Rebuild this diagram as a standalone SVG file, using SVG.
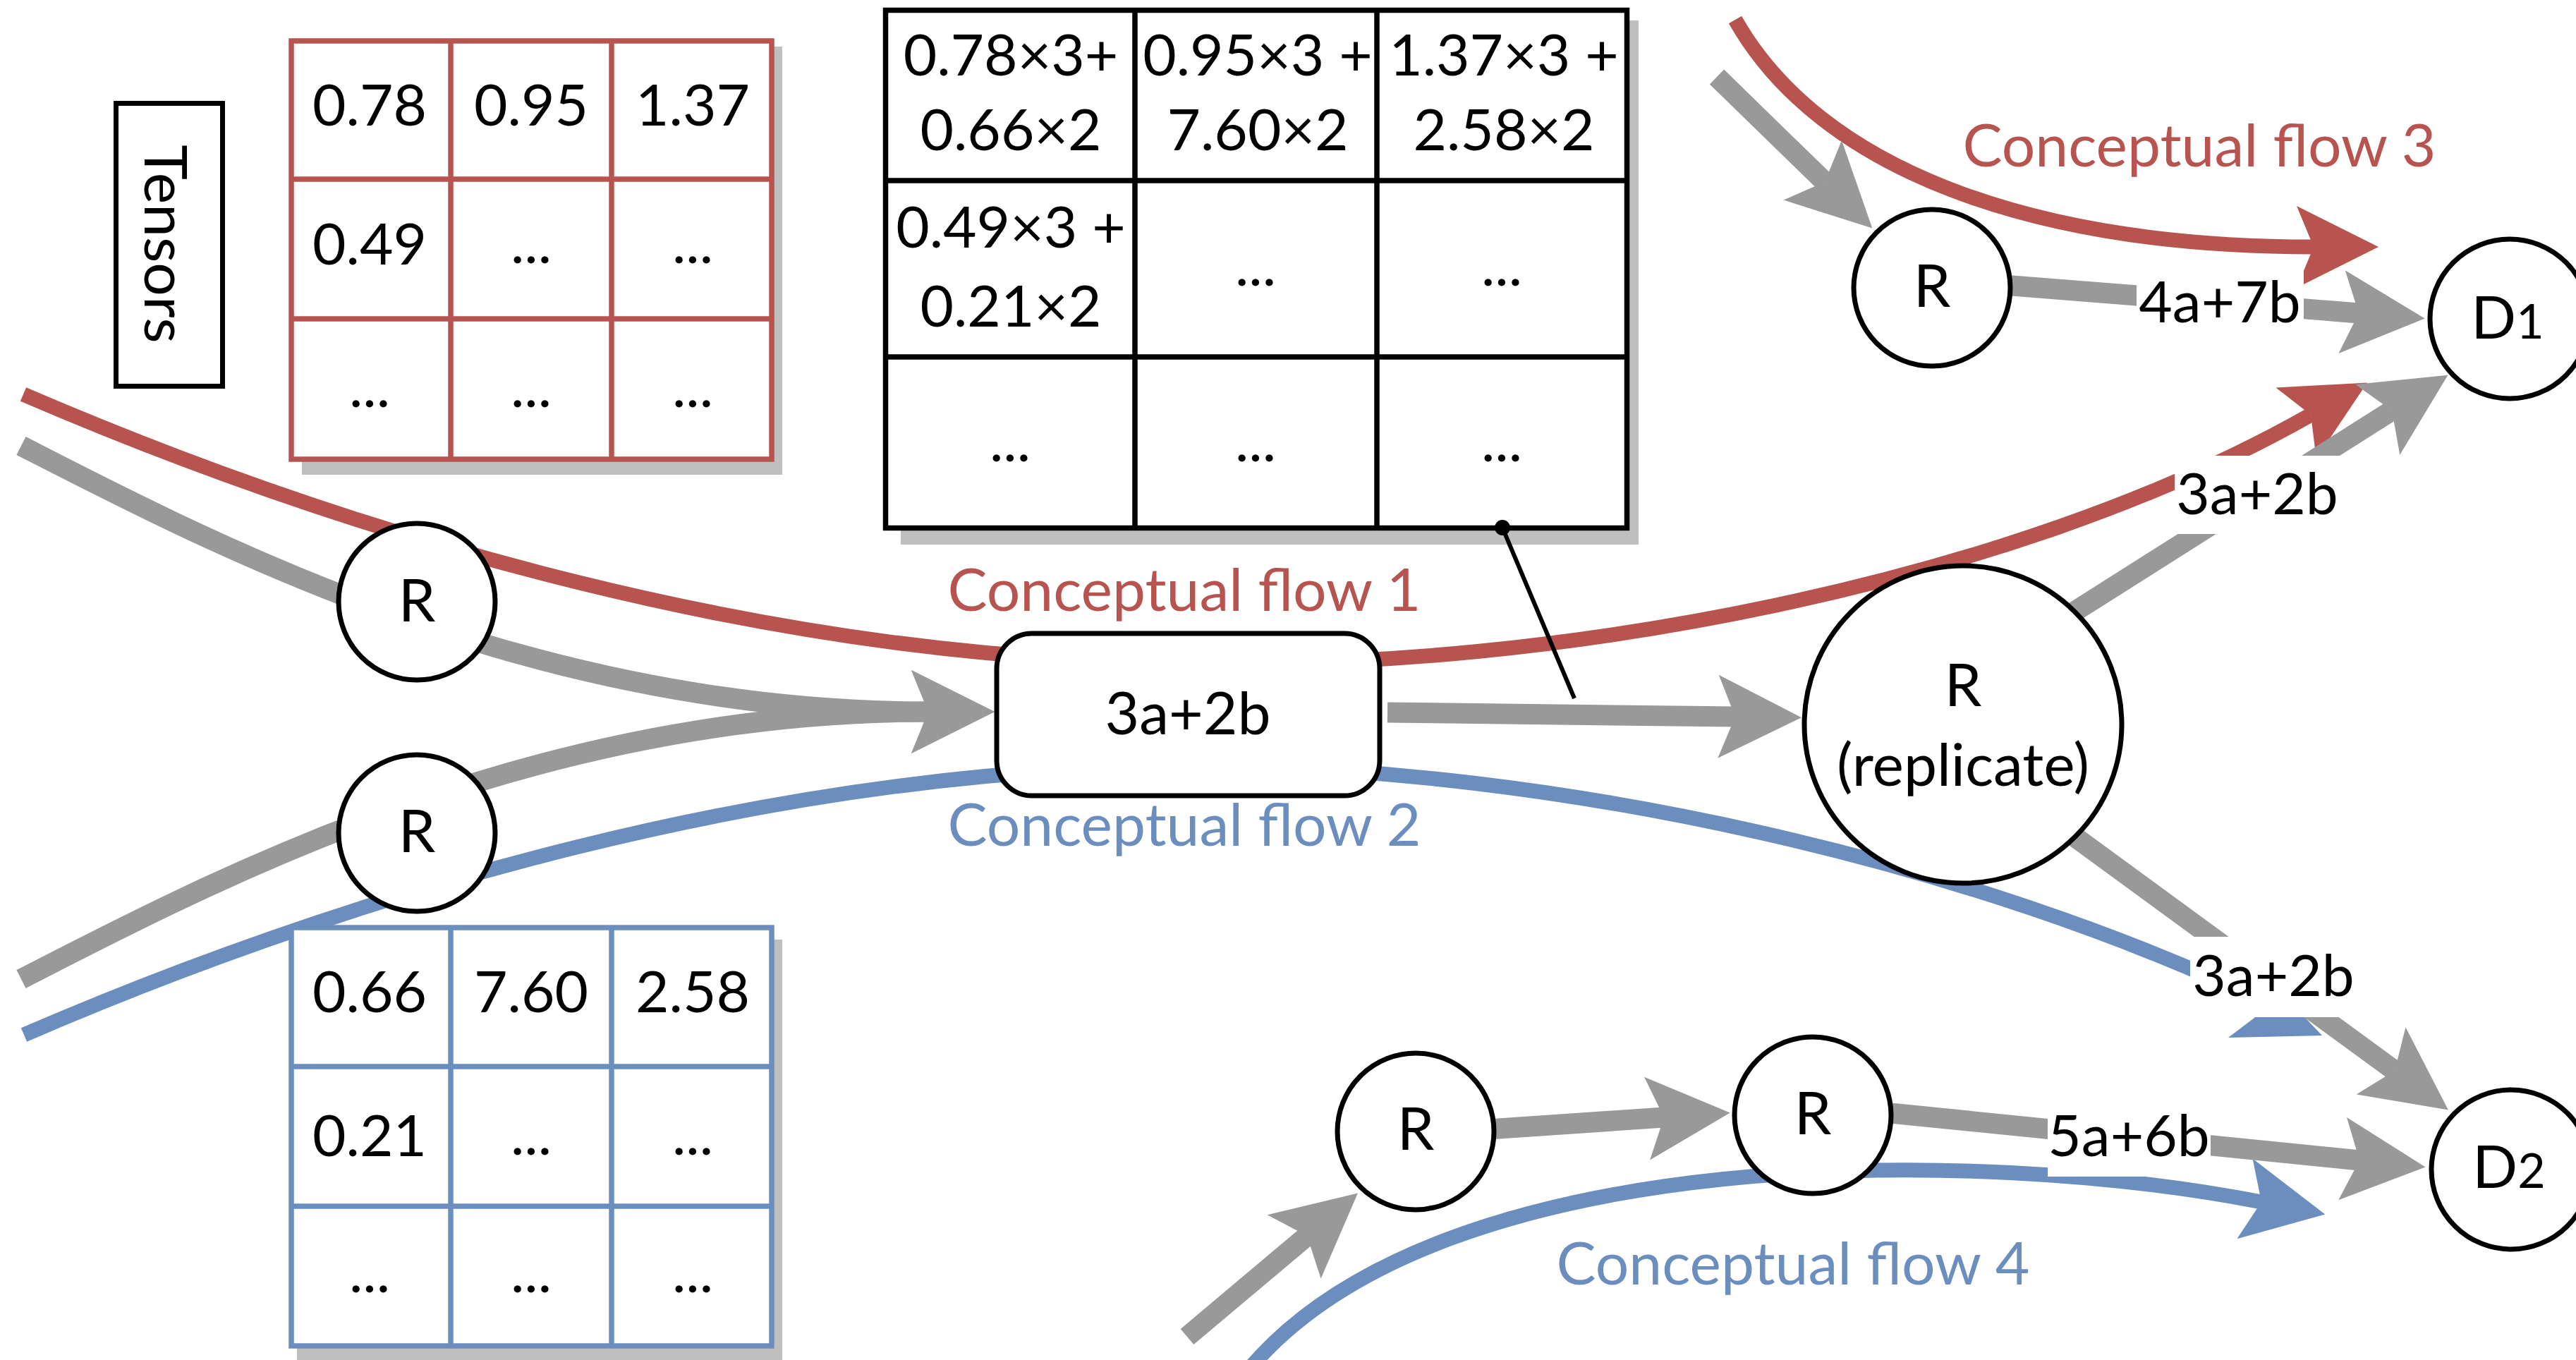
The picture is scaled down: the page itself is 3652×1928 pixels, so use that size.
<svg xmlns="http://www.w3.org/2000/svg" width="3652" height="1928" viewBox="0 0 3652 1928">
  <style>
    .txt { font-family: Lato, "Liberation Sans", sans-serif; font-size: 82px; fill: #000; text-anchor: middle; }
    .big { font-size: 84px; }
    .fr { fill: #b85450; }
    .fb { fill: #6c8ebf; }
    .node { fill: #fff; stroke: #000; stroke-width: 7; }
    .gray { fill: none; stroke: #999999; stroke-width: 29; }
    .red { fill: none; stroke: #b85450; stroke-width: 21; }
    .blue { fill: none; stroke: #6c8ebf; stroke-width: 21; }
    .shadow { fill: #bfbfbf; }
    .cell { fill: #fff; }
    .gridR { fill: none; stroke: #b85450; stroke-width: 7.5; }
    .gridB { fill: none; stroke: #6c8ebf; stroke-width: 7.5; }
    .gridK { fill: none; stroke: #000; stroke-width: 7.5; }
    .lbg { fill: #fff; }
  </style>
  <defs>
    <marker id="ahGray" viewBox="0 -60 118 120" markerWidth="118" markerHeight="120" refX="24" refY="0" orient="auto" markerUnits="userSpaceOnUse">
      <path d="M0,-59 L118,0 L0,59 L24,0 Z" fill="#999999"/>
    </marker>
    <marker id="ahRed" viewBox="0 -60 118 120" markerWidth="118" markerHeight="120" refX="24" refY="0" orient="auto" markerUnits="userSpaceOnUse">
      <path d="M0,-58 L116,0 L0,58 L24,0 Z" fill="#b85450"/>
    </marker>
    <marker id="ahBlue" viewBox="0 -60 118 120" markerWidth="118" markerHeight="120" refX="24" refY="0" orient="auto" markerUnits="userSpaceOnUse">
      <path d="M0,-58 L116,0 L0,58 L24,0 Z" fill="#6c8ebf"/>
    </marker>
  </defs>

  <rect x="0" y="0" width="3652" height="1928" fill="#fff"/>

  <!-- flows and data edges -->
  <g id="connectors">
    <!-- conceptual flows -->
    <path id="flow1" class="red" d="M33,559 C500,760 1100,940 1700,940 C2200,950 2850,830 3276,588" marker-end="url(#ahRed)"/>
    <path id="flow2" class="blue" d="M34,1467 C500,1266 1100,1086 1700,1086 C2200,1086 2800,1220 3230,1430"/>
    <polygon points="3159,1471 3292,1468 3238,1411" fill="#6c8ebf"/>
    <path id="flow3" class="red" d="M2460,28 C2580,240 2880,350 3280,350" marker-end="url(#ahRed)"/>
    <path id="flow4" class="blue" d="M1776,1935 C2050,1620 2800,1625 3206,1704" marker-end="url(#ahBlue)"/>
    <!-- data edges -->
    <path class="gray" d="M30,632 C300,770 750,1009 1316,1009" marker-end="url(#ahGray)"/>
    <path class="gray" d="M30,1388 C300,1250 750,1009 1316,1009" marker-end="url(#ahGray)"/>
    <path class="gray" d="M1967,1010 L2460,1016" marker-end="url(#ahGray)"/>
    <path class="gray" d="M2930,874 L3391,582" marker-end="url(#ahGray)"/>
    <path class="gray" d="M2930,1178 L3395,1518" marker-end="url(#ahGray)"/>
    <path class="gray" d="M2434,109 L2587,258" marker-end="url(#ahGray)"/>
    <path class="gray" d="M2840,404 L3344,444" marker-end="url(#ahGray)"/>
    <path class="gray" d="M1683,1895 L1853,1752" marker-end="url(#ahGray)"/>
    <path class="gray" d="M2110,1601 L2359,1584" marker-end="url(#ahGray)"/>
    <path class="gray" d="M2670,1577 L3345,1645" marker-end="url(#ahGray)"/>
  </g>

  <!-- tensor label -->
  <g id="tensors-label">
    <rect x="164.5" y="146.5" width="151" height="401" fill="#fff" stroke="#000" stroke-width="7"/>
    <text class="txt big" transform="translate(205,346) rotate(90)" x="0" y="0">Tensors</text>
  </g>

  <!-- input tensor A -->
  <g id="tensor-a">
    <rect class="shadow" x="428" y="66" width="681" height="607"/>
    <rect class="cell" x="413" y="58" width="681" height="593"/>
    <g class="gridR">
      <rect x="413" y="58" width="681" height="593"/>
      <line x1="639" y1="58" x2="639" y2="651"/>
      <line x1="867" y1="58" x2="867" y2="651"/>
      <line x1="413" y1="254" x2="1094" y2="254"/>
      <line x1="413" y1="452" x2="1094" y2="452"/>
    </g>
    <text class="txt" x="524" y="178">0.78</text>
    <text class="txt" x="753" y="178">0.95</text>
    <text class="txt" x="982" y="178">1.37</text>
    <text class="txt" x="524" y="375">0.49</text>
    <text class="txt" x="753" y="373">...</text>
    <text class="txt" x="982" y="373">...</text>
    <text class="txt" x="524" y="577">...</text>
    <text class="txt" x="753" y="577">...</text>
    <text class="txt" x="982" y="577">...</text>
  </g>

  <!-- input tensor B -->
  <g id="tensor-b">
    <rect class="shadow" x="421" y="1332" width="688" height="600"/>
    <rect class="cell" x="413" y="1315" width="681" height="593"/>
    <g class="gridB">
      <rect x="413" y="1315" width="681" height="593"/>
      <line x1="639" y1="1315" x2="639" y2="1908"/>
      <line x1="867" y1="1315" x2="867" y2="1908"/>
      <line x1="413" y1="1512" x2="1094" y2="1512"/>
      <line x1="413" y1="1710" x2="1094" y2="1710"/>
    </g>
    <text class="txt" x="524" y="1435">0.66</text>
    <text class="txt" x="753" y="1435">7.60</text>
    <text class="txt" x="982" y="1435">2.58</text>
    <text class="txt" x="524" y="1639">0.21</text>
    <text class="txt" x="753" y="1637">...</text>
    <text class="txt" x="982" y="1637">...</text>
    <text class="txt" x="524" y="1832">...</text>
    <text class="txt" x="753" y="1832">...</text>
    <text class="txt" x="982" y="1832">...</text>
  </g>

  <!-- result tensor -->
  <g id="tensor-result">
    <rect class="shadow" x="1277" y="29" width="1046" height="743"/>
    <rect class="cell" x="1255.5" y="14.5" width="1051" height="734"/>
    <g class="gridK">
      <rect x="1255.5" y="14.5" width="1051" height="734"/>
      <line x1="1609" y1="14.5" x2="1609" y2="748.5"/>
      <line x1="1952" y1="14.5" x2="1952" y2="748.5"/>
      <line x1="1255.5" y1="256" x2="2306.5" y2="256"/>
      <line x1="1255.5" y1="506" x2="2306.5" y2="506"/>
    </g>
    <text class="txt" x="1433" y="107">0.78×3+</text>
    <text class="txt" x="1433" y="213">0.66×2</text>
    <text class="txt" x="1783" y="107">0.95×3 +</text>
    <text class="txt" x="1783" y="213">7.60×2</text>
    <text class="txt" x="2132" y="107">1.37×3 +</text>
    <text class="txt" x="2132" y="213">2.58×2</text>
    <text class="txt" x="1433" y="351">0.49×3 +</text>
    <text class="txt" x="1433" y="463">0.21×2</text>
    <text class="txt" x="1780" y="405">...</text>
    <text class="txt" x="2129" y="405">...</text>
    <text class="txt" x="1432" y="654">...</text>
    <text class="txt" x="1780" y="654">...</text>
    <text class="txt" x="2129" y="654">...</text>
  </g>

  <!-- nodes -->
  <g id="r1"><circle class="node" cx="591" cy="853" r="111"/><text class="txt big" x="591" y="881">R</text></g>
  <g id="r2"><circle class="node" cx="591" cy="1181" r="111"/><text class="txt big" x="591" y="1208">R</text></g>
  <g id="sum"><rect class="node" x="1413" y="898" width="543" height="230" rx="50" ry="50"/><text class="txt big" x="1684" y="1041">3a+2b</text></g>
  <g id="replicate"><circle class="node" cx="2783" cy="1027" r="225"/><text class="txt big" x="2783" y="1001">R</text><text class="txt big" x="2783" y="1114">(replicate)</text></g>
  <g id="r3"><circle class="node" cx="2739" cy="408" r="111"/><text class="txt big" x="2739" y="435">R</text></g>
  <g id="r4"><circle class="node" cx="2007" cy="1604" r="111"/><text class="txt big" x="2007" y="1630">R</text></g>
  <g id="r5"><circle class="node" cx="2570" cy="1581" r="111"/><text class="txt big" x="2570" y="1608">R</text></g>
  <g id="d1"><circle class="node" cx="3558" cy="452" r="113"/><text class="txt big" x="3555" y="480">D<tspan font-size="68">1</tspan></text></g>
  <g id="d2"><circle class="node" cx="3560" cy="1658" r="113"/><text class="txt big" x="3557" y="1684">D<tspan font-size="68">2</tspan></text></g>

  <!-- edge labels -->
  <g id="edge-labels">
    <rect class="lbg" x="3029" y="374" width="237" height="112"/>
    <text class="txt" x="3147" y="457">4a+7b</text>
    <rect class="lbg" x="3083" y="646" width="235" height="111"/>
    <text class="txt" x="3200" y="729">3a+2b</text>
    <rect class="lbg" x="3105" y="1328" width="235" height="114"/>
    <text class="txt" x="3223" y="1412">3a+2b</text>
    <rect class="lbg" x="2903" y="1555" width="231" height="113"/>
    <text class="txt" x="3018" y="1639">5a+6b</text>
  </g>

  <!-- flow captions -->
  <g id="flow-captions">
    <text class="txt big fr" x="1679" y="866">Conceptual flow 1</text>
    <text class="txt big fb" x="1679" y="1199">Conceptual flow 2</text>
    <text class="txt big fr" x="3118" y="236">Conceptual flow 3</text>
    <text class="txt big fb" x="2542" y="1821">Conceptual flow 4</text>
  </g>

  <!-- pointer from result tensor to its edge -->
  <g id="annotation">
    <line x1="2130" y1="748" x2="2232" y2="990" stroke="#000" stroke-width="6"/>
    <circle cx="2130" cy="748" r="11" fill="#000"/>
  </g>
</svg>
